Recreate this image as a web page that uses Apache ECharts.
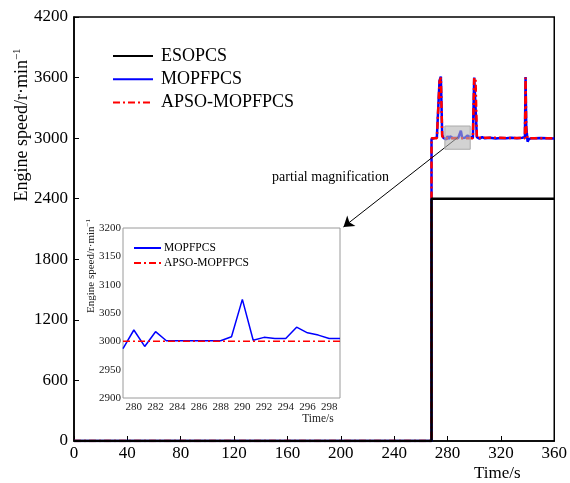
<!DOCTYPE html>
<html><head><meta charset="utf-8">
<script src="https://cdn.jsdelivr.net/npm/echarts@6/dist/echarts.min.js"></script>
<style>html,body{margin:0;padding:0;background:#fff}#c{width:570px;height:483px}</style>
</head><body><div id="c"></div>
<script>
// ---------- data ----------
const seriesNames = ['ESOPCS', 'MOPFPCS', 'APSO-MOPFPCS'];
const xTickLabels = [0, 40, 80, 120, 160, 200, 240, 280, 320, 360];
const yTickLabels = [0, 600, 1200, 1800, 2400, 3000, 3600, 4200];
const insetXTickLabels = [280, 282, 284, 286, 288, 290, 292, 294, 296, 298];
const insetYTickLabels = [2900, 2950, 3000, 3050, 3100, 3150, 3200];
const insetRange = [279, 299];

// ESOPCS
const esoTime = [0, 268, 268, 360];
const esoSpeed = [0, 0, 2400, 2400];

// magnified window (279-299 s)
const insetTime = [279, 280, 281, 282, 283, 284, 285, 286, 287, 288, 289, 290, 291, 292, 293, 294, 295, 296, 297, 298, 299];
const insetMop  = [2987, 3020, 2991, 3017, 3001, 3001, 3001, 3001, 3001, 3001, 3008, 3074, 3002, 3007, 3005, 3005, 3025, 3015, 3011, 3005, 3005];
const insetApso = [3000, 3000, 3000, 3000, 3000, 3000, 3000, 3000, 3000, 3000, 3000, 3000, 3000, 3000, 3000, 3000, 3000, 3000, 3000, 3000, 3000];

// MOPFPCS (outside the magnified window)
const mopTimeBefore  = [0, 268, 268, 270, 272, 274, 275, 276, 277, 278];
const mopSpeedBefore = [0, 0, 2990, 3000, 3005, 3570, 3610, 3030, 3002, 2995];
const mopTimeAfter   = [300, 301, 302, 304, 306, 308, 312, 316, 320, 324, 328, 332, 336, 338, 338.5, 339, 340, 341, 342, 343, 345, 350, 355, 360];
const mopSpeedAfter  = [3600, 3585, 3010, 2995, 3010, 2998, 3004, 2997, 3002, 2998, 3003, 2999, 3004, 3010, 3605, 3120, 2965, 2990, 2972, 3000, 2998, 3002, 2998, 2996];

// APSO-MOPFPCS (outside the magnified window)
const apsoTimeBefore  = [0, 268, 268, 272, 274, 275, 276, 277, 278];
const apsoSpeedBefore = [0, 0, 3000, 3000, 3560, 3600, 3020, 3000, 3000];
const apsoTimeAfter   = [300, 301, 302, 338, 338.5, 339, 340, 360];
const apsoSpeedAfter  = [3600, 3580, 3005, 3000, 3600, 3080, 3000, 3000];

// annotation (gray box + arrow) in data units
const boxTime = [278, 297];
const boxSpeed = [2890, 3120];
const arrowFrom = [288, 3010];
const arrowTo = [202, 2120];

// ---------- build ----------
const zip = (t, v) => t.map((x, i) => [x, v[i]]);
const mopData = zip(mopTimeBefore.concat(insetTime, mopTimeAfter), mopSpeedBefore.concat(insetMop, mopSpeedAfter));
const apsoData = zip(apsoTimeBefore.concat(insetTime, apsoTimeAfter), apsoSpeedBefore.concat(insetApso, apsoSpeedAfter));

const FONT = "'Liberation Serif','Times New Roman',serif";
const dashDot = [7, 3, 2, 3];
const plain = v => String(v);

const chart = echarts.init(document.getElementById('c'), null, {renderer: 'canvas'});
chart.setOption({
  animation: false,
  backgroundColor: '#fff',
  textStyle: {fontFamily: FONT},
  grid: [
    {left: 74, right: 13, top: 17, bottom: 42, show: true, borderColor: '#000', borderWidth: 1.5, backgroundColor: 'transparent'},
    {left: 123, top: 228, width: 217, height: 170, show: true, borderColor: '#9a9a9a', borderWidth: 1, backgroundColor: '#fff'}
  ],
  xAxis: [
    {type: 'value', gridIndex: 0, min: xTickLabels[0], max: xTickLabels[xTickLabels.length - 1], interval: xTickLabels[1] - xTickLabels[0],
     axisLine: {show: true, lineStyle: {color: '#000', width: 1.5}},
     axisTick: {show: true, inside: true, length: 5, lineStyle: {color: '#000', width: 1}},
     axisLabel: {color: '#000', fontSize: 17, fontFamily: FONT, margin: 4, formatter: plain},
     splitLine: {show: false},
     name: 'Time/s', nameLocation: 'end', nameGap: -57,
     nameTextStyle: {color: '#000', fontSize: 17, fontFamily: FONT, align: 'center', verticalAlign: 'top', padding: [24, 0, 0, 0]}},
    {type: 'value', gridIndex: 1, min: insetRange[0], max: insetRange[1],
     axisLine: {show: false},
     axisTick: {show: false},
     axisLabel: {color: '#222', fontSize: 11, fontFamily: FONT, margin: 4, customValues: insetXTickLabels, formatter: plain},
     splitLine: {show: false},
     name: 'Time/s', nameLocation: 'end', nameGap: -22,
     nameTextStyle: {color: '#222', fontSize: 11.5, fontFamily: FONT, align: 'center', verticalAlign: 'top', padding: [15, 0, 0, 0]}}
  ],
  yAxis: [
    {type: 'value', gridIndex: 0, min: yTickLabels[0], max: yTickLabels[yTickLabels.length - 1], interval: yTickLabels[1] - yTickLabels[0],
     axisLine: {show: true, lineStyle: {color: '#000', width: 1.5}},
     axisTick: {show: true, inside: true, length: 5, lineStyle: {color: '#000', width: 1}},
     axisLabel: {color: '#000', fontSize: 17, fontFamily: FONT, margin: 6, formatter: plain},
     splitLine: {show: false}},
    {type: 'value', gridIndex: 1, min: insetYTickLabels[0], max: insetYTickLabels[insetYTickLabels.length - 1], interval: insetYTickLabels[1] - insetYTickLabels[0],
     axisLine: {show: false},
     axisTick: {show: false},
     axisLabel: {color: '#222', fontSize: 11, fontFamily: FONT, margin: 2, formatter: plain},
     splitLine: {show: false}}
  ],
  legend: [
    {orient: 'vertical', left: 112, top: 47, padding: 0, itemWidth: 40, itemHeight: 14, itemGap: 5.3,
     data: seriesNames, selectedMode: false,
     itemStyle: {opacity: 0},
     textStyle: {color: '#000', fontSize: 18, fontFamily: FONT, lineHeight: 18, padding: [0, 0, 0, 3]}},
    {orient: 'vertical', left: 133, top: 242, padding: 0, itemWidth: 27, itemHeight: 10, itemGap: 3,
     data: ['MOPFPCS ', 'APSO-MOPFPCS '], selectedMode: false,
     itemStyle: {opacity: 0},
     formatter: n => n.trim(),
     textStyle: {color: '#000', fontSize: 11.5, fontFamily: FONT, lineHeight: 11, padding: [0, 0, 0, -2]}}
  ],
  graphic: [
    {type: 'text', x: 22, y: 125, rotation: Math.PI / 2, z: 100,
     style: {text: '{a|Engine speed/r·min}{b|−1}', align: 'center', verticalAlign: 'middle', fill: '#000',
       rich: {a: {fontSize: 18, fontFamily: FONT, fill: '#000', lineHeight: 20}, b: {fontSize: 11, fontFamily: FONT, fill: '#000', verticalAlign: 'top', lineHeight: 11}}}},
    {type: 'text', x: 91, y: 266, rotation: Math.PI / 2, z: 100,
     style: {text: '{a|Engine speed/r·min}{b|−1}', align: 'center', verticalAlign: 'middle', fill: '#222',
       rich: {a: {fontSize: 11, fontFamily: FONT, fill: '#222', lineHeight: 12}, b: {fontSize: 7, fontFamily: FONT, fill: '#222', verticalAlign: 'top', lineHeight: 7}}}},
    {type: 'text', x: 272, y: 177, z: 100,
     style: {text: 'partial magnification', fontSize: 14, fontFamily: FONT, fill: '#000', align: 'left', verticalAlign: 'middle'}}
  ],
  series: [
    {name: seriesNames[1], type: 'line', xAxisIndex: 0, yAxisIndex: 0, symbol: 'none', z: 2,
     data: mopData, lineStyle: {color: '#0000ff', width: 2.5}, itemStyle: {color: '#0000ff'}},
    {name: seriesNames[2], type: 'line', xAxisIndex: 0, yAxisIndex: 0, symbol: 'none', z: 3,
     data: apsoData, lineStyle: {color: '#ff0000', width: 2.5, type: dashDot}, itemStyle: {color: '#ff0000'}},
    {name: seriesNames[0], type: 'line', xAxisIndex: 0, yAxisIndex: 0, symbol: 'none', z: 4,
     data: zip(esoTime, esoSpeed), lineStyle: {color: '#000', width: 2.5}, itemStyle: {color: '#000'},
     markLine: {silent: true, animation: false, symbol: ['none', 'arrow'], symbolSize: 10,
       lineStyle: {color: '#000', width: 1, type: 'solid'}, itemStyle: {color: '#000'}, label: {show: false},
       data: [[{coord: arrowFrom}, {coord: arrowTo}]]}},
    {name: 'box', type: 'custom', xAxisIndex: 0, yAxisIndex: 0, z: 6, silent: true,
     data: [[boxTime[0], boxSpeed[0], boxTime[1], boxSpeed[1]]],
     renderItem: (params, api) => {
       const p0 = api.coord([api.value(0), api.value(3)]);
       const p1 = api.coord([api.value(2), api.value(1)]);
       return {type: 'rect', shape: {x: p0[0], y: p0[1], width: p1[0] - p0[0], height: p1[1] - p0[1]},
               style: {fill: 'rgba(180,180,180,0.6)', stroke: '#aaaaaa', lineWidth: 1}};
     }},
    {name: 'MOPFPCS ', type: 'line', xAxisIndex: 1, yAxisIndex: 1, symbol: 'none', z: 2,
     data: zip(insetTime, insetMop), lineStyle: {color: '#0000ff', width: 1.5}, itemStyle: {color: '#0000ff'}},
    {name: 'APSO-MOPFPCS ', type: 'line', xAxisIndex: 1, yAxisIndex: 1, symbol: 'none', z: 3,
     data: zip(insetTime, insetApso), lineStyle: {color: '#ff0000', width: 1.5, type: dashDot}, itemStyle: {color: '#ff0000'}}
  ]
});
</script></body></html>
